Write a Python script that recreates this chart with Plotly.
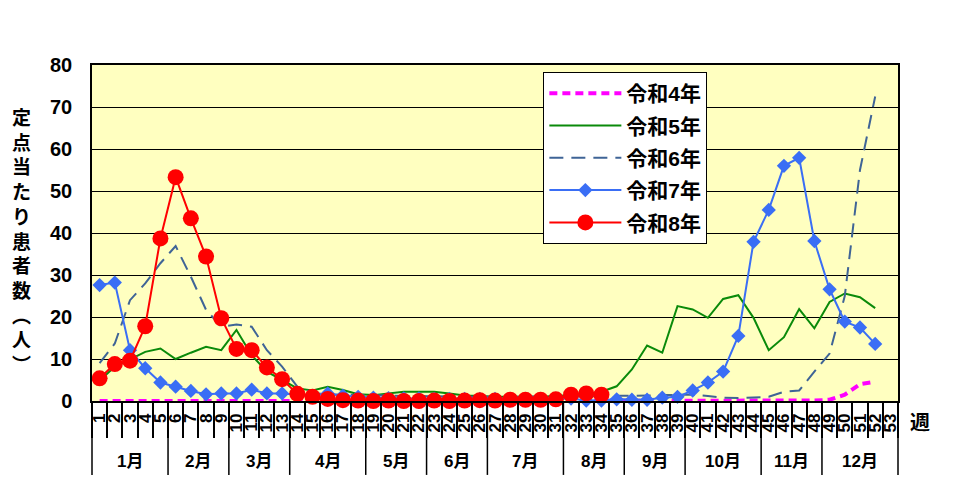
import plotly.graph_objects as go

weeks = [str(i) for i in range(1, 54)]

r4 = [0.0]*44 + [0.0, 0.0, 0.1, 0.1, 0.3, 1.5, 4.0, 4.6, None]
r5 = [4.8, 8.2, 9.9, 11.7, 12.5, 10.0, 11.5, 12.9, 12.1, 16.9,
      10.9, 7.0, 5.0, 3.0, 2.5, 3.4, 2.6, 1.6, 1.4, 1.8,
      2.2, 2.2, 2.2, 1.8, 1.3, 1.2, 1.0, 1.0, 1.0, 1.0,
      1.2, 1.4, 1.6, 2.2, 3.5, 7.5, 13.2, 11.5, 22.6, 21.8,
      19.8, 24.3, 25.2, 19.8, 12.1, 15.2, 21.9, 17.3, 23.6, 25.6,
      24.7, 22.1, None]
r6 = [9.0, 13.7, 24.0, 28.0, 32.8, 36.9, 29.6, 21.7, 17.7, 18.2,
      17.7, 12.1, 8.2, 3.4, 2.0, 1.5, 1.5, 1.4, 1.3, 1.2,
      1.2, 1.2, 1.1, 1.1, 1.0, 1.0, 1.0, 1.0, 1.0, 1.0,
      1.0, 1.1, 1.1, 1.2, 1.2, 1.3, 1.3, 1.4, 1.4, 1.5,
      1.2, 0.8, 0.7, 0.8, 1.0, 2.2, 2.5, 7.0, 11.3, 25.0,
      55.0, 72.5, None]
r7 = [27.6, 28.2, 12.1, 7.8, 4.4, 3.4, 2.4, 1.6, 1.8, 1.8,
      2.7, 1.8, 1.8, 1.5, 1.2, 1.8, 1.3, 1.0, 0.8, 0.7,
      0.6, 0.6, 0.5, 0.5, 0.5, 0.5, 0.5, 0.5, 0.5, 0.5,
      0.5, 0.6, 0.1, 0.1, 0.4, 0.3, 0.3, 0.8, 1.0, 2.5,
      4.4, 7.0, 15.5, 37.9, 45.5, 56.0, 57.9, 38.1, 26.6, 18.9,
      17.5, 13.6, None]
r8 = [5.4, 8.8, 9.6, 17.8, 38.7, 53.3, 43.5, 34.4, 19.7, 12.4,
      12.1, 8.0, 5.2, 1.7, 1.0, 0.5, 0.2, 0.1, 0.0, 0.1,
      0.0, 0.0, 0.1, 0.0, 0.1, 0.2, 0.1, 0.3, 0.3, 0.3,
      0.4, 1.5, 1.8, 1.5] + [None]*19

months = ['1月', '2月', '3月', '4月', '5月', '6月', '7月', '8月', '9月', '10月', '11月', '12月']
month_end = [5, 9, 13, 18, 22, 26, 31, 35, 39, 44, 48, 53]

FONT = "Liberation Sans, Arial, Noto Sans CJK JP"
NW = len(weeks)

fig = go.Figure()
fig.add_trace(go.Scatter(x=weeks, y=r4, name='令和4年', mode='lines', legendgroup='a',
                         line=dict(color='#FF00FF', width=4, dash='8px,5px'), cliponaxis=False))
fig.add_trace(go.Scatter(x=weeks, y=r5, name='令和5年', mode='lines', legendgroup='b',
                         line=dict(color='#0A8A0A', width=2)))
fig.add_trace(go.Scatter(x=weeks, y=r6, name='令和6年', mode='lines', legendgroup='c',
                         line=dict(color='#3F6496', width=2, dash='14px,8px')))
fig.add_trace(go.Scatter(x=weeks, y=r7, name='令和7年', mode='lines+markers', legendgroup='d',
                         line=dict(color='#3A6EF5', width=2),
                         marker=dict(symbol='diamond', size=11, color='#3A6EF5'), cliponaxis=False))
fig.add_trace(go.Scatter(x=weeks, y=r8, name='令和8年', mode='lines+markers', legendgroup='e',
                         line=dict(color='#FF0000', width=2),
                         marker=dict(symbol='circle', size=16, color='#FF0000'), cliponaxis=False))

shapes = []
for e in [0] + month_end:
    shapes.append(dict(type='line', xref='paper', yref='paper',
                       x0=e / NW, x1=e / NW, y0=0, y1=-0.22,
                       line=dict(color='black', width=1.5)))

annotations = []
start = 0
for m, e in zip(months, month_end):
    annotations.append(dict(text=m, xref='paper', yref='paper',
                            x=(start + e) / 2 / NW, y=-0.18, showarrow=False,
                            xanchor='center', yanchor='middle',
                            font=dict(family=FONT, size=17, color='black', weight='bold')))
    start = e

ytitle = '定点当たり患者数︵人︶'
annotations.append(dict(text='<br>'.join(list(ytitle)), xref='paper', yref='paper',
                        x=-0.087, y=0.48, showarrow=False, xanchor='center', yanchor='middle',
                        font=dict(family="Noto Sans CJK JP", size=19, color='black', weight='bold')))
annotations.append(dict(text='週', xref='paper', yref='paper', x=1.012, y=-0.06,
                        showarrow=False, xanchor='left', yanchor='middle',
                        font=dict(family="Noto Sans CJK JP", size=20, color='black', weight='bold')))

fig.update_layout(
    width=973, height=502,
    margin=dict(l=84, r=83, t=57, b=109),
    paper_bgcolor='white', plot_bgcolor='#FFFFC0',
    showlegend=True,
    legend=dict(x=0.56, y=0.979, xanchor='left', yanchor='top',
                bgcolor='white', bordercolor='black', borderwidth=1,
                font=dict(family=FONT, size=21, color='black', weight='bold'),
                traceorder='grouped', tracegroupgap=2, itemwidth=72),
    shapes=shapes, annotations=annotations,
    xaxis=dict(type='category', categoryorder='array', categoryarray=weeks,
               range=[-0.5, NW - 0.5], tickmode='linear', tick0=0, dtick=1,
               tickson='boundaries', ticks='outside', ticklen=35,
               tickcolor='black', tickwidth=1.5, tickangle=-90, ticklabelstandoff=4,
               tickfont=dict(family=FONT, size=17, color='black', weight='bold'),
               showgrid=False, showline=True, linecolor='black', linewidth=1.5, mirror=True,
               fixedrange=True),
    yaxis=dict(range=[0, 80], dtick=10, showgrid=True, gridcolor='black', gridwidth=1,
               ticks='', ticklabelstandoff=14,
               tickfont=dict(family=FONT, size=20, color='black', weight='bold'),
               showline=True, linecolor='black', linewidth=1.5, mirror=True,
               zeroline=False, fixedrange=True),
)

fig.write_html("out.html")
